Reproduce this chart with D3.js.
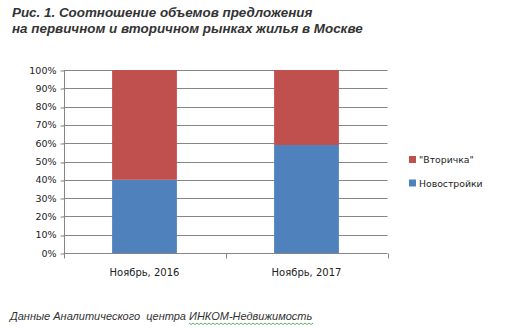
<!DOCTYPE html>
<html><head><meta charset="utf-8">
<script src="https://cdn.jsdelivr.net/npm/d3@7"></script>
<style>html,body{margin:0;padding:0;background:#fff;}svg{display:block;}</style>
</head><body>
<svg id="c" width="510" height="328"></svg>
<script>
const categories = ["Ноябрь, 2016", "Ноябрь, 2017"];
const seriesNames = ["Новостройки", "\"Вторичка\""];
const novostroyki = [40, 59];
const vtorichka = [60, 41];
const yTicks = [0,10,20,30,40,50,60,70,80,90,100];
const titleLines = ["Рис. 1. Соотношение объемов предложения", "на первичном и вторичном рынках жилья в Москве"];
const footerPlain = "Данные Аналитического  центра ";
const footerLink = "ИНКОМ-Недвижимость";

const colors = {"Новостройки":"#4F81BD", "\"Вторичка\"":"#C0504D"};
const svg = d3.select("#c");
const plot = {left:63.5, right:387.5, top:70, bottom:253};

const x = d3.scaleBand().domain(categories).range([plot.left, plot.right]).paddingInner(0.6).paddingOuter(0.3);
const y = d3.scaleLinear().domain([0,100]).range([plot.bottom, plot.top]);

// gridlines
svg.append("g").selectAll("line").data(yTicks.filter(d=>d>0)).join("line")
  .attr("x1", plot.left).attr("x2", plot.right)
  .attr("y1", d=>Math.round(y(d))+0.5).attr("y2", d=>Math.round(y(d))+0.5)
  .attr("stroke", "#868686").attr("stroke-width", 1);

// stacked bars
const rows = categories.map((c,i)=>({cat:c, "Новостройки":novostroyki[i], "\"Вторичка\"":vtorichka[i]}));
const stack = d3.stack().keys(seriesNames)(rows);
svg.append("g").selectAll("g").data(stack).join("g")
  .attr("fill", d=>colors[d.key])
  .selectAll("rect").data(d=>d).join("rect")
  .attr("x", d=>x(d.data.cat)).attr("width", x.bandwidth())
  .attr("y", d=>y(d[1])).attr("height", d=>y(d[0])-y(d[1]));

// y axis
const yAxis = d3.axisLeft(y).tickValues(yTicks).tickFormat(d=>d+"%").tickSize(4).tickPadding(8);
const ya = svg.append("g").attr("transform", `translate(${Math.round(plot.left)+0.5},0)`).call(yAxis);
ya.selectAll(".tick line").attr("stroke", "#868686").attr("transform", d=>`translate(0,${Math.round(y(d))+0.5-y(d)})`);
ya.select(".domain").attr("stroke", "#868686").attr("d", `M0,${plot.top}V${plot.bottom+0.5}`);
ya.selectAll(".tick text").attr("font-family", "DejaVu Sans").attr("font-size", 9.5).attr("fill", "#222").attr("x", -8);

// x axis
const xa = svg.append("g").attr("transform", `translate(0,${Math.round(plot.bottom)+0.5})`);
xa.append("line").attr("x1", plot.left).attr("x2", plot.right).attr("stroke", "#868686");
const bounds = [plot.left, (plot.left+plot.right)/2, plot.right];
xa.selectAll("line.t").data(bounds).join("line").attr("class","t")
  .attr("x1", d=>Math.round(d)+0.5).attr("x2", d=>Math.round(d)+0.5).attr("y1",0).attr("y2",5).attr("stroke","#868686");
xa.selectAll("text").data(categories).join("text")
  .attr("x", d=>x(d)+x.bandwidth()/2).attr("y", 22)
  .attr("text-anchor","middle").attr("font-family","DejaVu Sans").attr("font-size",10).attr("fill","#222")
  .text(d=>d);

// legend
const leg = svg.append("g").attr("transform","translate(409,156)");
const legItems = ["\"Вторичка\"", "Новостройки"];
legItems.forEach((k,i)=>{
  const g = leg.append("g").attr("transform",`translate(0,${i*23.5})`);
  g.append("rect").attr("width",7).attr("height",7).attr("fill",colors[k]);
  g.append("text").attr("x",10).attr("y",7).attr("font-family","DejaVu Sans").attr("font-size",9.3).attr("fill","#222").text(k);
});

// title
svg.append("g").selectAll("text").data(titleLines).join("text")
  .attr("x", 12).attr("y",(d,i)=>17+i*15.5)
  .attr("font-family","Liberation Sans, Arial").attr("font-weight","bold").attr("font-style","italic")
  .attr("font-size",13.4).attr("fill","#333").text(d=>d);

// footer
const ft = svg.append("text").attr("x",10).attr("y",320)
  .attr("font-family","Liberation Sans, Arial").attr("font-style","italic").attr("font-size",11).attr("fill","#333")
  .style("white-space","pre");
ft.append("tspan").text(footerPlain);
ft.append("tspan").text(footerLink);
// wavy spell-check underline under link
const textNode = ft.node();
const startIdx = footerPlain.length;
const x0 = textNode.getStartPositionOfChar(startIdx).x;
const x1 = textNode.getEndPositionOfChar(startIdx+footerLink.length-1).x;
let p = `M${x0},323`;
for (let xx=x0, k=0; xx<x1; xx+=2, k++) p += `L${xx+2},${k%2? 323:324.5}`;
svg.append("path").attr("d",p).attr("fill","none").attr("stroke","#3a9a3a").attr("stroke-width",0.8);
</script>
</body></html>
